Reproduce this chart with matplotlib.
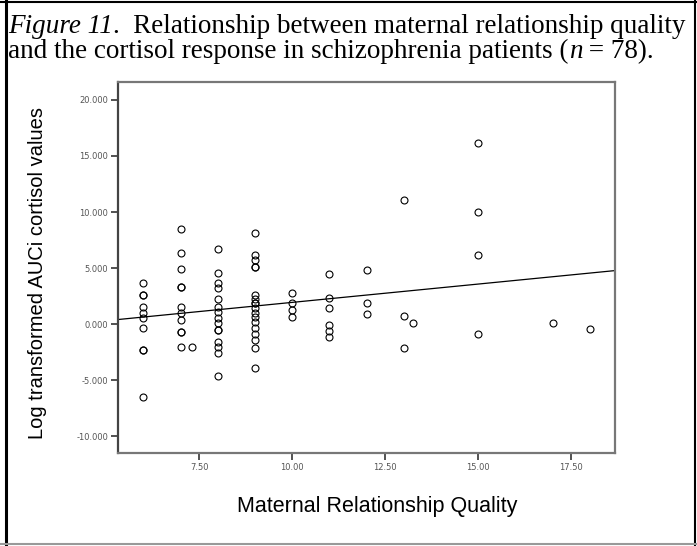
import numpy as np
import matplotlib
matplotlib.use('Agg')
from matplotlib import pyplot
from matplotlib.lines import Line2D
from matplotlib.ticker import FormatStrFormatter, FixedLocator

# maternal relationship quality (x) and log transformed AUCi cortisol (y)
quality = [6, 6, 6, 6, 6, 6, 6, 6, 6, 6,
           7, 7, 7, 7, 7, 7, 7, 7, 7, 7, 7, 7.3,
           8, 8, 8, 8, 8, 8, 8, 8, 8, 8, 8, 8, 8, 8, 8,
           9, 9, 9, 9, 9, 9, 9, 9, 9, 9, 9, 9, 9, 9, 9, 9, 9, 9,
           10, 10, 10, 10,
           11, 11, 11, 11, 11, 11,
           12, 12, 12,
           13, 13, 13.25, 13,
           15, 15, 15, 15,
           17, 18]
cortisol = [3.66, 2.59, 2.59, 1.52, 0.98, 0.54, -0.36, -2.32, -2.32, -6.52,
            8.48, 6.34, 4.91, 3.30, 3.30, 1.52, 0.98, 0.36, -0.71, -0.71, -2.05, -2.05,
            6.70, 4.55, 3.66, 3.21, 2.23, 1.52, 1.07, 0.54, 0.09, -0.54, -0.54, -1.61, -2.05, -2.59, -4.64,
            8.13, 6.16, 5.71, 5.09, 5.09, 2.59, 2.23, 1.88, 1.88, 1.43, 0.98, 0.63, 0.18, -0.36, -0.89, -1.43, -2.14, -3.93,
            2.77, 1.88, 1.25, 0.63,
            4.46, 2.32, 1.43, -0.09, -0.63, -1.16,
            4.82, 1.88, 0.89,
            11.07, 0.71, 0.09, -2.14,
            16.16, 10.00, 6.16, -0.89,
            0.09, -0.45]

x_ticks = [7.5, 10.0, 12.5, 15.0, 17.5]
y_ticks = [-10.0, -5.0, 0.0, 5.0, 10.0, 15.0, 20.0]

caption_1 = [(u'Figure 11', 'italic'), (u'.  Relationship between maternal relationship quality', 'normal')]
caption_2 = [(u'and the cortisol response in schizophrenia patients (', 'normal'),
             (u'n', 'italic'), (u' = 78).', 'normal')]


def put_runs(fig, x, y, runs, **kw):
    r = fig.canvas.get_renderer()
    for s, style in runs:
        t = fig.text(x, y, s, fontstyle=style, va='baseline', **kw)
        bb = t.get_window_extent(renderer=r)
        x += bb.width / fig.bbox.width


def plot_scatter():
    f = pyplot.figure(figsize=(6.97, 5.46), dpi=100)

    # page frame around figure + caption
    f.add_artist(Line2D([0.008, 0.008], [0.0, 1.0], color='black', lw=2.2, transform=f.transFigure))
    f.add_artist(Line2D([0.0, 1.0], [0.997, 0.997], color='black', lw=1.5, transform=f.transFigure))
    f.add_artist(Line2D([0.997, 0.997], [0.0, 1.0], color='black', lw=1.5, transform=f.transFigure))
    f.add_artist(Line2D([0.0, 1.0], [0.003, 0.003], color='#999999', lw=1.5, transform=f.transFigure))

    put_runs(f, 0.012, 0.940, caption_1, family='Liberation Serif', fontsize=19.5)
    put_runs(f, 0.012, 0.893, caption_2, family='Liberation Serif', fontsize=19.5)

    ax = f.add_axes([0.1693, 0.1703, 0.7131, 0.6795])
    ax.plot(quality, cortisol, 'o', ms=5, mfc='none', mec='black', mew=0.8)

    # least squares fit line across the whole x range
    k, b = np.polyfit(quality, cortisol, 1)
    xlim = (5.32, 18.68)
    xs = np.array(xlim)
    ax.plot(xs, k * xs + b, '-', color='black', lw=0.9)

    ax.set_xlim(*xlim)
    ax.set_ylim(-11.5, 21.6)
    ax.xaxis.set_major_locator(FixedLocator(x_ticks))
    ax.yaxis.set_major_locator(FixedLocator(y_ticks))
    ax.xaxis.set_major_formatter(FormatStrFormatter('%.2f'))
    ax.yaxis.set_major_formatter(FormatStrFormatter('%.3f'))
    ax.tick_params(direction='out', length=5, width=1.2, labelsize=6,
                   labelcolor='#555555', color='#333333', pad=2)
    for side in ('top', 'right', 'bottom'):
        ax.spines[side].set_color('#777777')
        ax.spines[side].set_linewidth(1.6)
    ax.spines['left'].set_color('#444444')
    ax.spines['left'].set_linewidth(1.6)

    f.text(0.054, 0.50, u'Log transformed AUCi cortisol values', rotation=90,
           ha='center', va='center', family='Liberation Sans', fontsize=14.5)
    f.text(0.541, 0.062, u'Maternal Relationship Quality',
           ha='center', va='baseline', family='Liberation Sans', fontsize=15.5)
    return f


if __name__ == '__main__':
    fig = plot_scatter()
    fig.savefig('out.png', dpi=100)
